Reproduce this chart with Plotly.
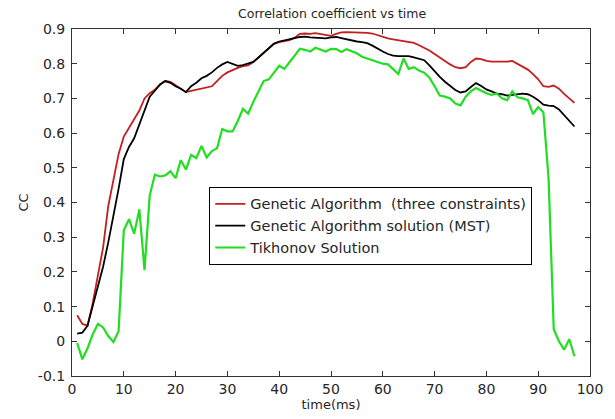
import plotly.graph_objects as go

time_ms = list(range(1, 98))

ga_three = [0.075, 0.05, 0.045, 0.11, 0.19, 0.27, 0.39, 0.47, 0.54, 0.59,
            0.615, 0.64, 0.665, 0.70, 0.715, 0.725, 0.74, 0.75, 0.748, 0.738,
            0.728, 0.718, 0.722, 0.725, 0.728, 0.73, 0.735, 0.75, 0.765, 0.775,
            0.782, 0.788, 0.793, 0.795, 0.805, 0.818, 0.832, 0.845, 0.857, 0.862,
            0.866, 0.868, 0.875, 0.886, 0.887, 0.886, 0.888, 0.886, 0.882, 0.88,
            0.886, 0.89, 0.891, 0.891, 0.89, 0.89, 0.889, 0.887, 0.882, 0.878,
            0.873, 0.870, 0.868, 0.866, 0.864, 0.86, 0.853, 0.846, 0.838, 0.828,
            0.819, 0.808, 0.798, 0.79, 0.787, 0.79, 0.805, 0.815, 0.813, 0.808,
            0.806, 0.806, 0.805, 0.806, 0.808, 0.800, 0.792, 0.783, 0.770, 0.755,
            0.735, 0.733, 0.737, 0.728, 0.713, 0.700, 0.687]

ga_mst = [0.022, 0.025, 0.045, 0.10, 0.155, 0.215, 0.285, 0.36, 0.44, 0.525,
          0.56, 0.585, 0.625, 0.67, 0.705, 0.722, 0.74, 0.75, 0.745, 0.735,
          0.728, 0.718, 0.735, 0.745, 0.758, 0.765, 0.775, 0.788, 0.798, 0.805,
          0.80, 0.794, 0.796, 0.80, 0.805, 0.818, 0.832, 0.845, 0.858, 0.864,
          0.868, 0.870, 0.874, 0.877, 0.878, 0.876, 0.875, 0.874, 0.873, 0.876,
          0.877, 0.874, 0.870, 0.867, 0.864, 0.862, 0.859, 0.852, 0.843, 0.835,
          0.828, 0.823, 0.822, 0.823, 0.822, 0.818, 0.815, 0.810, 0.795, 0.778,
          0.762, 0.748, 0.735, 0.724, 0.717, 0.72, 0.733, 0.744, 0.736, 0.726,
          0.72, 0.714, 0.712, 0.708, 0.710, 0.713, 0.714, 0.712, 0.705, 0.695,
          0.682, 0.679, 0.678, 0.668, 0.652, 0.635, 0.619]

tikhonov = [-0.005, -0.052, -0.02, 0.02, 0.05, 0.04, 0.015, -0.002, 0.03, 0.32,
            0.352, 0.31, 0.38, 0.205, 0.42, 0.48, 0.475, 0.478, 0.49, 0.47,
            0.522, 0.495, 0.537, 0.528, 0.563, 0.53, 0.548, 0.556, 0.612, 0.605,
            0.605, 0.635, 0.67, 0.656, 0.69, 0.72, 0.75, 0.755, 0.775, 0.794,
            0.785, 0.805, 0.822, 0.843, 0.84, 0.835, 0.846, 0.84, 0.835, 0.843,
            0.842, 0.834, 0.842, 0.836, 0.83, 0.82, 0.815, 0.81, 0.804, 0.80,
            0.798, 0.785, 0.77, 0.815, 0.785, 0.79, 0.78, 0.774, 0.76, 0.735,
            0.708, 0.705, 0.70, 0.685, 0.68, 0.705, 0.72, 0.73, 0.722, 0.715,
            0.71, 0.714, 0.70, 0.695, 0.72, 0.703, 0.70, 0.695, 0.655, 0.675,
            0.66, 0.47, 0.035, 0.0, -0.024, 0.006, -0.043]

x_ticks = [0, 10, 20, 30, 40, 50, 60, 70, 80, 90, 100]
y_ticks = [-0.1, 0, 0.1, 0.2, 0.3, 0.4, 0.5, 0.6, 0.7, 0.8, 0.9]
y_tick_text = ["-0.1", "0", "0.1", "0.2", "0.3", "0.4", "0.5", "0.6", "0.7", "0.8", "0.9"]

font_family = "DejaVu Sans, sans-serif"
text_color = "#262626"

fig = go.Figure()
fig.add_trace(go.Scatter(x=time_ms, y=ga_three, mode="lines",
                         name="Genetic Algorithm  (three constraints)",
                         line=dict(color="#c41e1e", width=1.8)))
fig.add_trace(go.Scatter(x=time_ms, y=ga_mst, mode="lines",
                         name="Genetic Algorithm solution (MST)",
                         line=dict(color="#000000", width=1.8)))
fig.add_trace(go.Scatter(x=time_ms, y=tikhonov, mode="lines",
                         name="Tikhonov Solution",
                         line=dict(color="#22dd22", width=2.2)))

axis_common = dict(showgrid=False, zeroline=False, showline=True, linecolor="#333333",
                   linewidth=1, mirror="ticks", ticks="inside", ticklen=5,
                   tickcolor="#333333",
                   tickfont=dict(family=font_family, size=14, color=text_color))

fig.update_layout(
    width=615, height=419,
    margin=dict(l=72, r=22, t=29, b=39),
    paper_bgcolor="white", plot_bgcolor="white",
    title=dict(text="Correlation coefficient vs time", x=0.54, xanchor="center",
               y=0.968, yanchor="middle",
               font=dict(family=font_family, size=12.5, color=text_color)),
    font=dict(family=font_family, color=text_color),
    legend=dict(x=0.265, y=0.545, xanchor="left", yanchor="top",
                bgcolor="white", bordercolor="#000000", borderwidth=1,
                font=dict(family=font_family, size=14.5, color=text_color),
                tracegroupgap=0),
    showlegend=True,
)
fig.update_xaxes(range=[0, 100], tickvals=x_ticks,
                 title=dict(text="time(ms)", standoff=1,
                            font=dict(family=font_family, size=13, color=text_color)),
                 **axis_common)
fig.update_yaxes(range=[-0.1, 0.9], tickvals=y_ticks, ticktext=y_tick_text,
                 ticklabelstandoff=3,
                 title=dict(text="CC", standoff=6,
                            font=dict(family=font_family, size=13, color=text_color)),
                 **axis_common)

fig.write_html("out.html")
